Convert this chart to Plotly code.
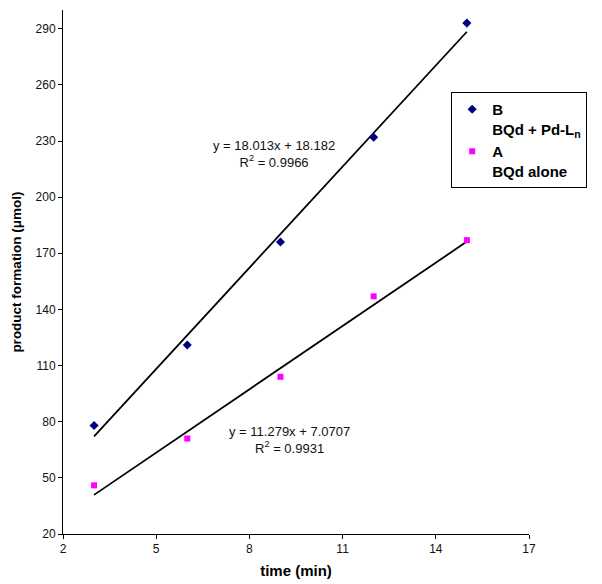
import plotly.graph_objects as go
import numpy as np

time_min = [3, 6, 9, 12, 15]
b_values = [78, 121, 176, 232, 293]
a_values = [46, 71, 104, 147, 177]
b_fit = (18.013, 18.182)
a_fit = (11.279, 7.0707)
b_r2 = 0.9966
a_r2 = 0.9931
x_ticks = [2, 5, 8, 11, 14, 17]
y_ticks = [20, 50, 80, 110, 140, 170, 200, 230, 260, 290]

FONT = "Arial, Liberation Sans, sans-serif"

fig = go.Figure()

xf = np.array([min(time_min), max(time_min)], dtype=float)

fig.add_trace(go.Scatter(x=xf, y=b_fit[0] * xf + b_fit[1], mode="lines",
                         line=dict(color="black", width=1.8), showlegend=False, hoverinfo="skip"))
fig.add_trace(go.Scatter(x=xf, y=a_fit[0] * xf + a_fit[1], mode="lines",
                         line=dict(color="black", width=1.8), showlegend=False, hoverinfo="skip"))

fig.add_trace(go.Scatter(x=time_min, y=b_values, mode="markers",
                         name="B<br>BQd + Pd-L<sub>n</sub>",
                         marker=dict(symbol="diamond", size=7, color="#000080")))
fig.add_trace(go.Scatter(x=time_min, y=a_values, mode="markers",
                         name="A<br>BQd alone",
                         marker=dict(symbol="square", size=6, color="#FF00FF")))

fig.add_annotation(x=8.8, y=223, xref="x", yref="y",
                   text=f"y = {b_fit[0]:.3f}x + {b_fit[1]:.3f}<br>R<sup>2</sup> = {b_r2:.4f}",
                   showarrow=False, font=dict(family=FONT, size=13, color="#111"), align="center")
fig.add_annotation(x=9.28, y=70, xref="x", yref="y",
                   text=f"y = {a_fit[0]:.3f}x + {a_fit[1]:.4f}<br>R<sup>2</sup> = {a_r2:.4f}",
                   showarrow=False, font=dict(family=FONT, size=13, color="#111"), align="center")

axis_common = dict(showgrid=False, zeroline=False, showline=True, linecolor="black", linewidth=1,
                   ticks="outside", ticklen=4, tickcolor="black",
                   tickfont=dict(family=FONT, size=12, color="#111"))

fig.update_layout(
    width=602, height=584,
    margin=dict(l=55, r=81, t=2, b=58),
    paper_bgcolor="white", plot_bgcolor="white",
    font=dict(family=FONT),
    xaxis=dict(range=[2, 17], tickvals=x_ticks,
               title=dict(text="<b>time (min)</b>", font=dict(family=FONT, size=15, color="black"), standoff=10),
               **axis_common),
    yaxis=dict(range=[20, 300], tickvals=y_ticks,
               title=dict(text="<b>product formation (μmol)</b>", font=dict(family=FONT, size=13.5, color="black"), standoff=10),
               **axis_common),
    legend=dict(x=0.833, y=0.8435, xanchor="left", yanchor="top",
                bgcolor="white", bordercolor="black", borderwidth=1,
                font=dict(family=FONT, size=15, color="black", weight="bold"),
                valign="top", tracegroupgap=4, itemwidth=30),
)

fig.write_html("out.html")
